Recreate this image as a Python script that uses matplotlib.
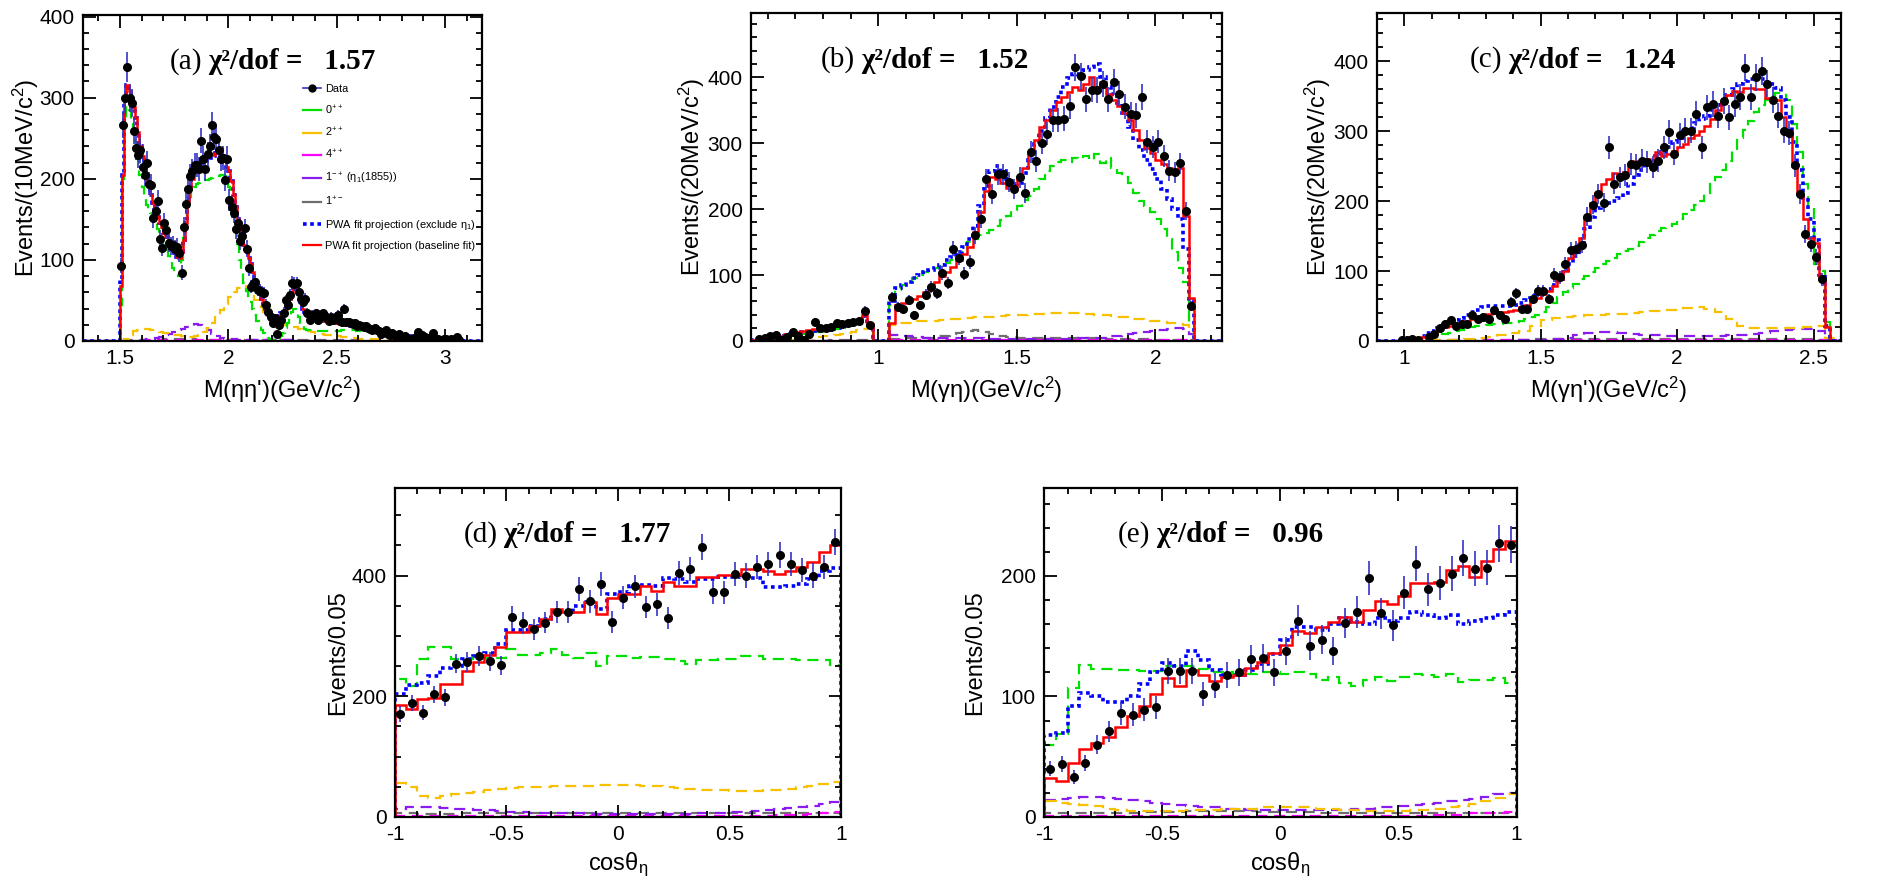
'''PWA fit projections: eta eta' mass, gamma eta, gamma eta' masses and cos theta_eta'''
import numpy as np
import matplotlib
matplotlib.use('Agg')
import matplotlib.pyplot as plt
from matplotlib.lines import Line2D
from matplotlib.ticker import MultipleLocator, FuncFormatter

plt.rcParams['font.family'] = ['Liberation Sans', 'DejaVu Sans']
plt.rcParams['mathtext.fontset'] = 'custom'
plt.rcParams['mathtext.rm'] = 'Liberation Sans'
plt.rcParams['mathtext.it'] = 'Liberation Sans:italic'
plt.rcParams['mathtext.bf'] = 'Liberation Sans:bold'

nan = np.nan

# ---------------- (a) M(eta eta'), 10 MeV bins from 1.50 ----------------
data_a = [93, 266, 299, 338, 300, 293, 259, 238, 229, 235,
          215, 205, 220, 194, 192, 152, 160, 173, 126, 115,
          146, 137, 121, 117, 118, 114, 116, 108, 84, 141,
          169, 188, 204, 210, 217, 217, 212, 247, 225, 212,
          230, 240, 266, 251, 249, 235, 224, 226, 199, 225,
          174, 165, 158, 138, 145, 123, 130, 139, 114, 90,
          67, 70, 73, 63, 62, 60, 59, 45, 36, 30,
          22, 28, 9, 20, 26, 35, 50, 45, 57, 72,
          70, 71, 60, 52, 48, 52, 35, 26, 32, 31,
          34, 26, 29, 34, 31, 28, 25, 30, 26, 30,
          32, 25, 24, 39, 24, 23, 22, 21, 22, 19,
          20, 18, 17, 19, 16, 15, 14, 16, 13, 12,
          9, 11, 13, 9, 8, 10, 7, 6, 9, 5,
          4, 6, 3, 2, 0, 4, 3, 11, 5, 7,
          5, 4, 2, 1, 10, 3, 2, 0, 1, 3,
          2, 0, 3, 1, 2, 5, 1, 0, 0, 0]
red_a = [68, 205, 300, 316, 308, 298, 288, 275, 258, 240,
         228, 215, 200, 190, 180, 170, 162, 153, 145, 140,
         133, 128, 123, 118, 113, 108, 104, 102, 110, 125,
         145, 170, 188, 200, 208, 214, 218, 220, 223, 226,
         229, 230, 231, 229, 232, 233, 230, 228, 222, 215,
         210, 197, 180, 165, 150, 138, 127, 118, 110, 102,
         95, 85, 75, 66, 58, 52, 45, 40, 36, 33,
         31, 30, 29, 31, 34, 37, 40, 45, 52, 60,
         64, 65, 58, 48, 40, 36, 33, 31, 30, 29,
         28, 27, 26, 26, 25, 25, 24, 24, 23, 22,
         22, 21, 21, 20, 20, 20, 19, 19, 18, 18,
         17, 17, 16, 16, 16, 15, 15, 14, 14, 13,
         13, 12, 12, 11, 11, 10, 10, 9, 9, 8,
         8, 7, 7, 6, 6, 5, 5, 4, 4, 4,
         3, 3, 2, 2, 2, 1, 1, 1, 1, 0]
# the exclude-eta1 projection follows the baseline almost everywhere in (a)
blue_a = list(red_a)
blue_a[0] = 75
blue_a[36:44] = [213, 216, 219, 222, 225, 226, 228, 228]
green_a = [45, 200, 270, 290, 285, 270, 258, 245, 225, 205,
           190, 175, 168, 162, 158, 152, 145, 138, 130, 125,
           118, 112, 105, 98, 90, 85, 82, 80, 100, 130,
           150, 165, 178, 185, 190, 193, 195, 197, 198, 199,
           199, 200, 201, 202, 203, 204, 205, 205, 203, 198,
           190, 175, 158, 140, 120, 100, 85, 72, 62, 55,
           48, 40, 32, 25, 19, 14, 10, 7, 4, 2,
           1, 0, 1, 3, 6, 10, 16, 22, 30, 36,
           40, 38, 30, 22, 18, 15, 14, 13, 13, 12,
           12, 12, 12, 12, 12, 12, 12, 12, 12, 12,
           12, 12, 13, 13, 13, 13, 13, 13, 13, 12,
           12, 12, 12, 12, 12, 11, 11, 11, 11, 10,
           10, 10, 9, 9, 9, 8, 8, 7, 7, 6,
           6, 5, 5, 5, 4, 4, 3, 3, 3, 2,
           2, 2, 1, 1, 1, 1, 0, 0, 0, 0]
# 20 MeV bins from 1.50
orange_a = [0, 3, 8, 12, 14, 15, 15, 14, 12, 11,
            10, 9, 8, 7, 6, 5, 5, 6, 8, 11,
            16, 22, 30, 38, 46, 54, 60, 65, 68, 65,
            58, 50, 42, 36, 31, 27, 24, 22, 20, 18,
            17, 15, 14, 12, 11, 10, 9, 8, 7, 6,
            6, 5, 5, 4, 4, 3, 3, 3, 2, 2,
            2, 1, 1, 1, 1, 0, 0, 0, 0, 0]
purple_a = [0, 0, 0, 0, 0, 1, 2, 3, 4, 5,
            7, 9, 11, 13, 15, 17, 19, 21, 20, 17,
            13, 9, 6, 4, 3, 2, 2, 1, 1, 1,
            1, 1, 1, 1, 1, 1, 1, 1, 1, 1,
            0, 0, 0, 0, 0]
# 50 MeV bins from 1.50
grey_a = [0, 1, 1, 1, 2, 2, 2, 1, 1, 1, 1, 1, 1, 1, 1, 1,
          1, 1, 1, 1, 1, 1, 0, 0, 0, 0, 0, 0, 0, 0, 0, 0]
magenta_a = [0, 0, 1, 1, 1, 1, 1, 1, 1, 1, 1, 1, 1, 1, 1, 1,
             0, 0, 0, 0, 0, 0, 0, 0, 0, 0, 0, 0, 0, 0, 0, 0]

# ---------------- (b) M(gamma eta), 20 MeV bins from 0.54 ----------------
data_b = [nan, 3, 4, 7, 9, 2, 6, 14, 8, 2,
          10, 29, 19, 19, 21, 27, 26, 27, 29, 30,
          46, 24, nan, nan, nan, 66, 52, 49, 62, 39,
          54, 70, 82, 72, 103, 88, 140, 126, 102, 120,
          160, 185, 245, 223, 253, 253, 241, 231, 248, 224,
          286, 273, 300, 314, 335, 335, 337, 356, 415, 401,
          366, 381, 380, 390, 366, 392, 375, 355, 344, 342,
          370, 302, 294, 302, 281, 258, 256, 269, 197, 53,
          nan, nan, nan, nan, nan]
red_b = [1, 2, 3, 5, 6, 8, 10, 12, 13, 15,
         17, 18, 19, 20, 21, 23, 25, 27, 29, 31,
         40, 26, 0, 0, 0, 28, 55, 57, 60, 63,
         68, 75, 82, 90, 98, 105, 112, 122, 132, 142,
         165, 195, 228, 248, 245, 240, 232, 235, 245, 262,
         285, 305, 325, 335, 350, 362, 370, 378, 385, 380,
         390, 400, 385, 393, 375, 365, 356, 345, 335, 320,
         305, 292, 285, 275, 268, 262, 258, 262, 190, 65,
         0, 0, 0, 0, 0]
blue_b = [1, 2, 3, 4, 5, 7, 8, 10, 11, 13,
          14, 15, 16, 17, 18, 20, 22, 24, 26, 28,
          38, 24, 0, 0, 0, 60, 80, 85, 90, 95,
          100, 105, 108, 110, 115, 122, 128, 135, 142, 155,
          175, 205, 235, 258, 265, 258, 245, 238, 240, 255,
          275, 298, 318, 338, 355, 370, 385, 398, 405, 400,
          410, 415, 420, 400, 385, 375, 360, 345, 325, 305,
          290, 275, 260, 245, 230, 215, 200, 185, 140, 60,
          0, 0, 0, 0, 0]
green_b = [0, 1, 2, 3, 4, 6, 7, 8, 9, 11,
           12, 13, 14, 15, 16, 18, 20, 22, 24, 26,
           36, 22, 0, 0, 0, 55, 78, 85, 90, 95,
           100, 104, 108, 110, 113, 118, 122, 128, 135, 150,
           155, 160, 163, 168, 175, 183, 190, 198, 205, 213,
           220, 230, 245, 258, 265, 272, 274, 272, 278, 276,
           280, 275, 283, 270, 278, 262, 255, 248, 240, 225,
           212, 205, 195, 185, 170, 155, 135, 110, 90, 28,
           0, 0, 0, 0, 0]
orange_b = [0, 0, 0, 0, 0, 1, 1, 2, 2, 3,
            4, 5, 6, 7, 8, 9, 10, 12, 14, 16,
            18, 21, 0, 0, 0, 25, 27, 28, 28, 29,
            30, 30, 31, 31, 32, 33, 33, 34, 35, 35,
            36, 36, 37, 37, 38, 38, 39, 39, 40, 40,
            41, 41, 41, 42, 42, 42, 43, 42, 42, 42,
            41, 41, 40, 40, 39, 38, 37, 36, 35, 34,
            33, 32, 31, 30, 29, 28, 27, 26, 24, 15,
            0, 0, 0, 0, 0]
purple_b = [0, 0, 0, 0, 0, 0, 0, 0, 0, 0,
            0, 0, 0, 0, 0, 0, 0, 0, 0, 0,
            0, 0, 0, 0, 0, 9, 9, 8, 7, 6,
            6, 5, 5, 5, 5, 4, 4, 4, 4, 4,
            4, 4, 3, 3, 3, 3, 3, 3, 3, 3,
            3, 3, 3, 3, 3, 3, 3, 3, 3, 4,
            4, 4, 5, 5, 6, 7, 8, 9, 10, 12,
            13, 14, 15, 16, 17, 18, 19, 19, 18, 10,
            0, 0, 0, 0, 0]
grey_b = [0, 0, 0, 0, 0, 0, 0, 0, 0, 0,
          0, 0, 0, 0, 1, 1, 1, 1, 1, 1,
          1, 1, 0, 0, 0, 3, 3, 3, 4, 4,
          4, 5, 5, 6, 7, 8, 10, 12, 14, 15,
          16, 15, 13, 10, 8, 7, 6, 6, 5, 5,
          5, 5, 5, 5, 5, 5, 5, 5, 4, 4,
          4, 4, 4, 4, 3, 3, 3, 3, 3, 3,
          3, 3, 3, 2, 2, 2, 2, 2, 2, 1,
          0, 0, 0, 0, 0]
magenta_b = [0, 0, 0, 0, 0, 0, 0, 0, 0, 0,
             0, 0, 0, 0, 0, 0, 0, 0, 0, 0,
             0, 0, 0, 0, 0, 1, 1, 1, 1, 1,
             1, 1, 1, 1, 1, 1, 1, 1, 1, 1,
             1, 1, 1, 1, 1, 1, 1, 1, 1, 1,
             1, 1, 1, 1, 1, 1, 1, 1, 1, 1,
             1, 1, 1, 1, 1, 1, 1, 1, 1, 1,
             1, 1, 1, 1, 1, 1, 1, 1, 1, 1,
             0, 0, 0, 0, 0]

# ---------------- (c) M(gamma eta'), 20 MeV bins from 0.90 ----------------
data_c = [nan, nan, nan, nan, 2, 1, 3, 2, nan, 6,
          10, 18, 25, 30, 22, 25, 25, 37, 32, 34,
          32, 44, 37, 32, 56, 68, 46, 46, 60, 72,
          72, 60, 94, 91, 110, 130, 132, 137, 178, 195,
          210, 198, 277, 225, 234, 237, 253, 251, 258, 256,
          249, 258, 277, 299, 268, 294, 301, 301, 325, 277,
          334, 339, 322, 343, 320, 339, 349, 391, 349, 377,
          386, 368, 345, 322, 301, 298, 251, 210, 153, 139,
          120, 88, nan, nan, nan]
red_c = [0, 0, 0, 0, 0, 0, 1, 3, 6, 9,
         13, 17, 20, 22, 24, 26, 28, 31, 33, 35,
         38, 40, 41, 42, 43, 45, 48, 52, 57, 62,
         67, 72, 78, 88, 100, 118, 130, 148, 175, 198,
         212, 225, 232, 240, 237, 242, 250, 257, 258, 260,
         258, 270, 265, 268, 272, 278, 282, 290, 295, 300,
         308, 318, 330, 340, 352, 358, 356, 362, 362, 360,
         360, 348, 345, 345, 320, 300, 250, 210, 175, 148,
         140, 89, 20, 0, 0]
blue_c = [0, 0, 0, 0, 0, 0, 1, 3, 7, 11,
          15, 19, 22, 26, 30, 33, 37, 41, 45, 48,
          50, 50, 50, 50, 50, 52, 55, 58, 62, 66,
          70, 75, 80, 88, 98, 110, 122, 140, 160, 178,
          190, 195, 198, 200, 205, 212, 225, 238, 245, 252,
          258, 265, 270, 278, 285, 290, 298, 305, 312, 318,
          322, 330, 338, 345, 352, 360, 368, 372, 375, 378,
          375, 370, 368, 362, 345, 320, 285, 245, 205, 175,
          145, 95, 22, 0, 0]
green_c = [0, 0, 0, 0, 0, 0, 0, 0, 2, 4,
           6, 8, 10, 12, 14, 16, 18, 20, 21, 22,
           23, 24, 25, 26, 26, 27, 29, 31, 34, 37,
           42, 48, 55, 63, 70, 76, 82, 88, 93, 98,
           104, 110, 115, 119, 124, 128, 132, 136, 142, 147,
           152, 158, 162, 164, 168, 175, 182, 188, 195, 200,
           212, 225, 235, 245, 258, 275, 290, 302, 315, 328,
           338, 345, 350, 355, 355, 345, 310, 270, 225, 190,
           110, 100, 27, 0, 0]
# 40 MeV bins from 0.90
orange_c = [0, 0, 0, 0, 0, 1, 1, 2, 3, 4, 6, 8, 11, 15, 22, 30, 33, 35, 36, 37, 37,
            38, 39, 40, 41, 43, 44, 45, 47, 48, 46, 42, 32, 22, 19, 19, 18, 18, 19, 20, 21, 4]
purple_c = [0, 0, 0, 0, 0, 0, 0, 0, 0, 0, 0, 0, 0, 1, 1, 2, 3, 5, 8, 11, 13,
            13, 12, 10, 9, 8, 7, 7, 7, 7, 7, 7, 8, 9, 10, 12, 14, 16, 17, 17, 14, 2]
grey_c = [0, 0, 0, 0, 0, 0, 1, 1, 1, 2, 2, 2, 2, 2, 3, 3, 3, 3, 3, 3, 3,
          3, 3, 3, 3, 3, 3, 3, 3, 3, 3, 3, 3, 3, 3, 3, 3, 3, 3, 3, 2, 0]
magenta_c = [0, 0, 0, 0, 0, 0, 0, 1, 1, 1, 1, 1, 1, 1, 1, 1, 1, 1, 1, 1, 1,
             1, 1, 1, 1, 1, 1, 1, 1, 1, 1, 1, 1, 1, 1, 1, 1, 1, 1, 1, 1, 0]

# ---------------- (d), (e) cos theta_eta, 0.05 bins from -1 ----------------
data_d = [171, 189, 173, 203, 198, 254, 257, 267, 258, 251,
          331, 321, 311, 322, 340, 339, 378, 357, 386, 323,
          363, 382, 348, 352, 329, 404, 411, 447, 372, 372,
          403, 400, 414, 419, 434, 419, 409, 400, 414, 456]
red_d = [185, 179, 196, 197, 220, 220, 241, 256, 268, 281,
         307, 307, 317, 328, 344, 339, 339, 356, 336, 362,
         369, 369, 383, 375, 389, 383, 383, 397, 397, 401,
         401, 411, 411, 407, 403, 408, 414, 422, 439, 450]
blue_d = [203, 218, 222, 233, 247, 250, 261, 267, 272, 286,
          310, 310, 317, 328, 339, 339, 350, 356, 345, 369,
          372, 383, 385, 383, 396, 394, 389, 394, 394, 397,
          397, 396, 396, 381, 381, 383, 386, 394, 408, 412]
green_d = [228, 217, 261, 281, 281, 261, 261, 267, 264, 264,
           279, 268, 268, 272, 278, 269, 264, 272, 250, 267,
           267, 264, 265, 265, 261, 258, 253, 260, 260, 261,
           261, 267, 267, 261, 261, 261, 260, 260, 260, 251]
orange_d = [56, 50, 35, 31, 35, 38, 40, 42, 45, 47,
            48, 49, 50, 50, 51, 51, 52, 52, 53, 53,
            53, 53, 52, 51, 49, 48, 46, 45, 44, 44,
            43, 43, 43, 44, 45, 47, 49, 51, 55, 58]
purple_d = [14, 17, 17, 16, 15, 14, 13, 12, 11, 10,
            9, 8, 7, 7, 6, 6, 6, 5, 5, 5,
            5, 5, 5, 5, 5, 5, 5, 6, 6, 7,
            8, 9, 10, 12, 13, 15, 17, 19, 22, 25]
grey_d = [6, 6, 5, 5, 5, 5, 6, 6, 6, 6, 6, 6, 6, 7, 7, 7, 7, 7, 7, 7,
          7, 7, 7, 7, 7, 6, 6, 6, 6, 6, 6, 6, 6, 6, 6, 6, 6, 6, 6, 6]
magenta_d = [2, 2, 2, 2, 2, 2, 2, 2, 2, 2, 2, 2, 2, 2, 2, 2, 2, 2, 2, 2,
             2, 2, 2, 2, 2, 2, 2, 2, 2, 2, 2, 2, 2, 2, 3, 3, 4, 5, 6, 8]

data_e = [40, 44, 33, 45, 60, 71, 86, 85, 89, 91,
          121, 121, 121, 102, 109, 118, 120, 131, 132, 120,
          138, 163, 142, 147, 138, 161, 170, 198, 169, 159,
          186, 210, 189, 194, 202, 215, 206, 207, 227, 226]
red_e = [32, 30, 45, 56, 61, 66, 75, 84, 92, 102,
         115, 109, 122, 118, 113, 116, 118, 124, 129, 136,
         143, 154, 153, 158, 162, 166, 162, 172, 179, 177,
         183, 194, 194, 195, 205, 208, 199, 212, 222, 229]
blue_e = [68, 70, 92, 103, 100, 95, 95, 100, 110, 120,
          128, 125, 138, 130, 122, 118, 118, 122, 127, 135,
          147, 158, 158, 155, 160, 165, 162, 160, 165, 163,
          165, 170, 168, 165, 168, 160, 163, 165, 168, 170]
green_e = [60, 69, 107, 126, 123, 123, 122, 122, 121, 121,
           125, 125, 125, 123, 120, 120, 119, 119, 120, 120,
           119, 120, 119, 114, 116, 111, 109, 114, 116, 113,
           116, 119, 118, 116, 119, 112, 114, 114, 115, 111]
orange_e = [13, 12, 11, 10, 9, 7, 6, 5, 5, 5,
            5, 5, 6, 6, 6, 7, 7, 7, 8, 8,
            8, 8, 8, 7, 7, 6, 6, 5, 5, 5,
            5, 6, 6, 7, 8, 9, 11, 13, 16, 19]
purple_e = [14, 15, 16, 17, 17, 16, 15, 14, 13, 12,
            11, 10, 9, 8, 8, 7, 7, 6, 6, 6,
            6, 6, 6, 6, 6, 6, 7, 7, 8, 8,
            9, 10, 11, 12, 13, 14, 15, 17, 19, 20]
grey_e = [3, 3, 3, 3, 3, 3, 3, 3, 4, 4, 4, 4, 5, 5, 5, 5, 5, 5, 4, 4,
          4, 4, 4, 3, 3, 3, 3, 3, 3, 3, 3, 3, 3, 3, 3, 3, 3, 3, 3, 3]
magenta_e = [1, 1, 1, 1, 1, 1, 1, 1, 1, 1, 1, 1, 1, 1, 1, 1, 1, 1, 1, 1,
             1, 1, 1, 1, 1, 1, 1, 1, 1, 1, 1, 1, 1, 2, 2, 2, 3, 3, 3, 4]

tags = ['(a)', '(b)', '(c)', '(d)', '(e)']
chi2 = ['1.57', '1.52', '1.24', '1.77', '0.96']
xlabels = ["M(\u03b7\u03b7')(GeV/c$^2$)", 'M(\u03b3\u03b7)(GeV/c$^2$)',
           "M(\u03b3\u03b7')(GeV/c$^2$)", 'cos\u03b8$_\\mathregular{\u03b7}$',
           'cos\u03b8$_\\mathregular{\u03b7}$']
ylabels = ['Events/(10MeV/c$^2$)', 'Events/(20MeV/c$^2$)', 'Events/(20MeV/c$^2$)',
           'Events/0.05', 'Events/0.05']
leg_labels = ['Data', '0$^{++}$', '2$^{++}$', '4$^{++}$', '1$^{-+}$ (\u03b7$_1$(1855))',
              '1$^{+-}$', 'PWA fit projection (exclude \u03b7$_1$)',
              'PWA fit projection (baseline fit)']

cos = {'green': '#00e000', 'orange': '#f7c000', 'magenta': '#ff00ff', 'purple': '#8a1cf0',
       'grey': '#6e6e6e', 'blue': '#0000ff', 'red': '#ff0000', 'err': '#3434c4'}
dash = (0, (5, 3))

# series, bin start, bin width
panels = [
    dict(data=(data_a, 1.50, 0.01), red=(red_a, 1.50, 0.01), blue=(blue_a, 1.50, 0.01),
         green=(green_a, 1.50, 0.01), orange=(orange_a, 1.50, 0.02), purple=(purple_a, 1.50, 0.02),
         grey=(grey_a, 1.50, 0.05), magenta=(magenta_a, 1.50, 0.05),
         xlim=(1.33, 3.17), ylim=(0, 402), ymaj=100, ymin=20,
         pos=[0.0442, 0.6125, 0.2126, 0.3705], tx=87, ylx=54),
    dict(data=(data_b, 0.54, 0.02), red=(red_b, 0.54, 0.02), blue=(blue_b, 0.54, 0.02),
         green=(green_b, 0.54, 0.02), orange=(orange_b, 0.54, 0.02), purple=(purple_b, 0.54, 0.02),
         grey=(grey_b, 0.54, 0.02), magenta=(magenta_b, 0.54, 0.02),
         xlim=(0.54, 2.24), ylim=(0, 497), ymaj=100, ymin=20,
         pos=[0.4001, 0.6125, 0.2509, 0.3727], tx=70, ylx=56),
    dict(data=(data_c, 0.90, 0.02), red=(red_c, 0.90, 0.02), blue=(blue_c, 0.90, 0.02),
         green=(green_c, 0.90, 0.02), orange=(orange_c, 0.90, 0.04), purple=(purple_c, 0.90, 0.04),
         grey=(grey_c, 0.90, 0.04), magenta=(magenta_c, 0.90, 0.04),
         xlim=(0.9, 2.6), ylim=(0, 469), ymaj=100, ymin=20,
         pos=[0.7336, 0.6125, 0.2472, 0.3727], tx=93, ylx=56),
    dict(data=(data_d, -1, 0.05), red=(red_d, -1, 0.05), blue=(blue_d, -1, 0.05),
         green=(green_d, -1, 0.05), orange=(orange_d, -1, 0.05), purple=(purple_d, -1, 0.05),
         grey=(grey_d, -1, 0.05), magenta=(magenta_d, -1, 0.05),
         xlim=(-1, 1), ylim=(0, 545), ymaj=200, ymin=50,
         pos=[0.2104, 0.0716, 0.2376, 0.3739], tx=69, ylx=58),
    dict(data=(data_e, -1, 0.05), red=(red_e, -1, 0.05), blue=(blue_e, -1, 0.05),
         green=(green_e, -1, 0.05), orange=(orange_e, -1, 0.05), purple=(purple_e, -1, 0.05),
         grey=(grey_e, -1, 0.05), magenta=(magenta_e, -1, 0.05),
         xlim=(-1, 1), ylim=(0, 273), ymaj=100, ymin=20,
         pos=[0.5562, 0.0716, 0.2518, 0.3739], tx=74, ylx=70),
]


def step(ax, series, lo, hi, **kw):
    vals, x0, w = series
    v = np.asarray(vals, float)
    nl = max(int(round((x0 - lo) / w)), 0)
    nr = max(int(np.ceil((hi - x0 - w * len(v)) / w - 1e-6)), 0)
    v = np.concatenate([np.zeros(nl), v, np.zeros(nr)])
    edges = x0 - nl * w + w * np.arange(len(v) + 1)
    ax.stairs(v, edges, baseline=0, **kw)


W, H = 1877, 880
fig = plt.figure(figsize=(W / 100, H / 100), dpi=100)
fmt = FuncFormatter(lambda v, p: '%g' % v)

for j, p in enumerate(panels):
    ax = fig.add_axes(p['pos'])
    lo, hi = p['xlim']
    for name in ['grey', 'magenta', 'purple', 'orange', 'green']:
        step(ax, p[name], lo, hi, color=cos[name], lw=1.6, linestyle=dash)
    step(ax, p['blue'], lo, hi, color=cos['blue'], lw=2.6, linestyle=(0, (1, 1)))
    step(ax, p['red'], lo, hi, color=cos['red'], lw=1.8)

    vals, x0, w = p['data']
    y = np.asarray(vals, float)
    y[y <= 0] = np.nan
    x = x0 + w * (np.arange(len(y)) + 0.5)
    ax.errorbar(x, y, yerr=np.sqrt(y), fmt='o', ms=5.5, mfc='k', mec='k',
                ecolor=cos['err'], elinewidth=1.2, capsize=0, zorder=5)

    ax.set_xlim(lo, hi)
    ax.set_ylim(*p['ylim'])
    ax.xaxis.set_major_locator(MultipleLocator(0.5))
    ax.xaxis.set_minor_locator(MultipleLocator(0.1))
    ax.yaxis.set_major_locator(MultipleLocator(p['ymaj']))
    ax.yaxis.set_minor_locator(MultipleLocator(p['ymin']))
    ax.xaxis.set_major_formatter(fmt)
    ax.yaxis.set_major_formatter(fmt)
    ax.tick_params(which='both', direction='in', top=True, right=True, width=1.3)
    ax.tick_params(which='major', length=9, labelsize=15, pad=6)
    ax.tick_params(which='minor', length=4.5)
    for s in ax.spines.values():
        s.set_linewidth(1.6)

    wpx = p['pos'][2] * W
    hpx = p['pos'][3] * H
    ax.set_xlabel(xlabels[j], fontsize=17)
    ax.set_ylabel(ylabels[j], fontsize=17)
    ax.xaxis.set_label_coords(0.5, -34 / hpx)
    ax.yaxis.set_label_coords(-(p['ylx'] - 12) / wpx, 0.5)

    t1 = ax.text(p['tx'] / wpx, 1 - 47 / hpx, tags[j], transform=ax.transAxes,
                 family='Liberation Serif', fontsize=21, va='center')
    ax.annotate('\u03c7\u00b2/dof =   ' + chi2[j], xy=(1, 0.5), xycoords=t1,
                xytext=(4, 0), textcoords='offset points', va='center',
                family='Liberation Serif', weight='bold', fontsize=21)

    if j == 0:
        handles = [Line2D([], [], color=cos['err'], marker='o', mfc='k', mec='k', ms=5, lw=1.2),
                   Line2D([], [], color=cos['green'], lw=1.6),
                   Line2D([], [], color=cos['orange'], lw=1.6),
                   Line2D([], [], color=cos['magenta'], lw=1.6),
                   Line2D([], [], color=cos['purple'], lw=1.6),
                   Line2D([], [], color=cos['grey'], lw=1.6),
                   Line2D([], [], color=cos['blue'], lw=2.6, linestyle=(0, (1, 1))),
                   Line2D([], [], color=cos['red'], lw=1.6)]
        ax.legend(handles, leg_labels, loc='upper left', bbox_to_anchor=(0.551, 0.788),
                  frameon=False, fontsize=7.9, handlelength=1.7, handletextpad=0.35,
                  labelspacing=0.84, borderpad=0, borderaxespad=0)

plt.savefig('out.png', dpi=100)
